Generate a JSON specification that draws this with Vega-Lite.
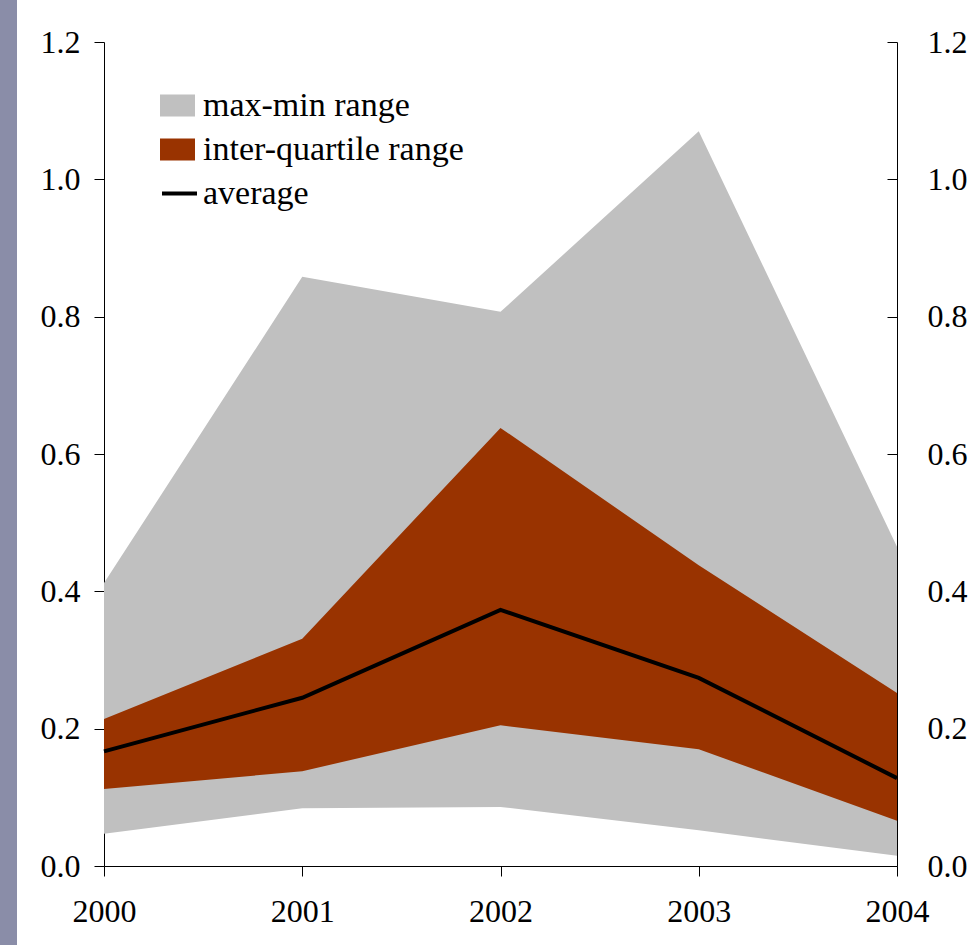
{
  "$schema": "https://vega.github.io/schema/vega-lite/v6.json",
  "width": 793,
  "height": 824,
  "autosize": "none",
  "padding": {"left": 104, "top": 42, "right": 83, "bottom": 79},
  "background": "#8a8da8",
  "config": {
    "font": "Liberation Serif, Times New Roman, serif",
    "view": {"stroke": "white", "strokeWidth": 174, "fill": "white"},
    "axis": {
      "domainColor": "black",
      "domainWidth": 1,
      "tickColor": "black",
      "tickWidth": 1,
      "tickSize": 10,
      "labelFont": "Liberation Serif, Times New Roman, serif",
      "labelFontSize": 32,
      "labelColor": "black",
      "grid": false,
      "title": null
    },
    "legend": {
      "labelFont": "Liberation Serif, Times New Roman, serif",
      "labelFontSize": 34,
      "labelColor": "black",
      "labelLimit": 0,
      "padding": 0,
      "title": null
    }
  },
  "data": {
    "values": [
      {"year": 2000, "min": 0.047, "max": 0.412, "q1": 0.112, "q3": 0.214, "avg": 0.167},
      {"year": 2001, "min": 0.084, "max": 0.858, "q1": 0.138, "q3": 0.331, "avg": 0.245},
      {"year": 2002, "min": 0.086, "max": 0.807, "q1": 0.205, "q3": 0.638, "avg": 0.373},
      {"year": 2003, "min": 0.052, "max": 1.07, "q1": 0.170, "q3": 0.438, "avg": 0.274},
      {"year": 2004, "min": 0.015, "max": 0.465, "q1": 0.066, "q3": 0.252, "avg": 0.128}
    ]
  },
  "encoding": {
    "x": {
      "field": "year",
      "type": "quantitative",
      "scale": {"domain": [2000, 2004], "nice": false, "zero": false},
      "axis": {"values": [2000, 2001, 2002, 2003, 2004], "format": "d", "labelPadding": 20, "labelFlush": false}
    }
  },
  "layer": [
    {
      "mark": {"type": "area"},
      "encoding": {
        "y": {
          "field": "min",
          "type": "quantitative",
          "scale": {"domain": [0, 1.2], "nice": false},
          "axis": {"orient": "left", "values": [0, 0.2, 0.4, 0.6, 0.8, 1.0, 1.2], "format": ".1f", "labelPadding": 14}
        },
        "y2": {"field": "max"},
        "fill": {
          "datum": "max-min range",
          "scale": {"domain": ["max-min range", "inter-quartile range"], "range": ["#c0c0c0", "#993300"]},
          "legend": {
            "orient": "none",
            "legendX": 56,
            "legendY": 46,
            "symbolType": "M-1,-0.63H1V0.63H-1Z",
            "symbolSize": 1225,
            "symbolStrokeWidth": 0,
            "labelOffset": 8,
            "labelLimit": 0,
            "rowPadding": 9
          }
        }
      }
    },
    {
      "mark": {"type": "area"},
      "encoding": {
        "y": {"field": "q1", "type": "quantitative", "axis": null},
        "y2": {"field": "q3"},
        "fill": {"datum": "inter-quartile range"}
      }
    },
    {
      "mark": {"type": "line", "strokeWidth": 4},
      "encoding": {
        "y": {
          "field": "avg",
          "type": "quantitative",
          "axis": {"orient": "right", "values": [0, 0.2, 0.4, 0.6, 0.8, 1.0, 1.2], "format": ".1f", "tickSize": -10, "labelPadding": 40}
        },
        "stroke": {
          "datum": "average",
          "scale": {"domain": ["average"], "range": ["black"]},
          "legend": {
            "orient": "none",
            "legendX": 56,
            "legendY": 132,
            "symbolType": "stroke",
            "symbolSize": 1225,
            "symbolStrokeWidth": 4,
            "labelOffset": 4,
            "labelLimit": 0
          }
        }
      }
    }
  ],
  "resolve": {"scale": {"y": "shared"}, "axis": {"y": "independent"}}
}
